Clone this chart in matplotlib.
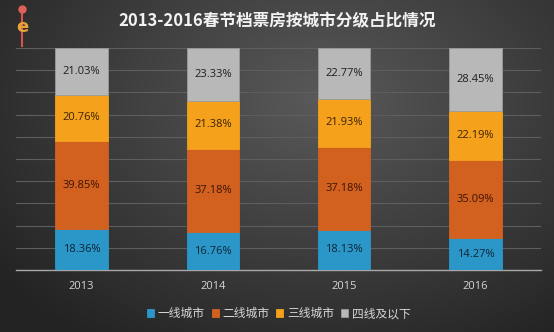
import numpy as np
import matplotlib
matplotlib.use("Agg")
import matplotlib.pyplot as plt
from matplotlib.lines import Line2D

plt.rcParams['font.family'] = ['Noto Sans CJK SC', 'DejaVu Sans']

years = ["2013", "2014", "2015", "2016"]
series_names = ["一线城市", "二线城市", "三线城市", "四线及以下"]
tier1 = [18.36, 16.76, 18.13, 14.27]
tier2 = [39.85, 37.18, 37.18, 35.09]
tier3 = [20.76, 21.38, 21.93, 22.19]
tier4 = [21.03, 23.33, 22.77, 28.45]

colors = ["#2b97c8", "#d2601f", "#f5a11c", "#b8b8b8"]
label_colors = ["#0d2433", "#3b1404", "#3a2204", "#1e1e1e"]

fig = plt.figure(figsize=(5.54, 3.32), dpi=100)

# dark radial background
bg = fig.add_axes([0, 0, 1, 1])
yy, xx = np.mgrid[0:332, 0:554]
d = np.sqrt(((xx - 320) / 420.0) ** 2 + ((yy - 100) / 300.0) ** 2)
v = np.clip(0.35 - 0.22 * d, 0.14, 0.35)
bg.imshow(np.dstack([v, v, v]), aspect='auto', extent=[0, 1, 0, 1], origin='upper')
bg.set_axis_off()

# small brand mark in the corner
bg.add_line(Line2D([22 / 554, 22 / 554], [1 - 8 / 332, 1 - 46 / 332], color='#d9534a', lw=1.5))
bg.plot([22 / 554], [1 - 9 / 332], 'o', color='#e0605a', ms=5)
bg.text(22 / 554, 1 - 27 / 332, "e", color='#e8a23a', fontsize=13, fontweight='bold',
        ha='center', va='center', family='DejaVu Sans')
bg.set_xlim(0, 1)
bg.set_ylim(0, 1)

ax = fig.add_axes([0.0289, 0.1867, 0.9476, 0.6687])
ax.set_facecolor('none')
x = np.arange(len(years))
data = np.array([tier1, tier2, tier3, tier4])
totals = data.sum(axis=0)
shares = data / totals * 100.0  # 100% stacked
bottom = np.zeros(len(years))
for vals, shr, c, lc, name in zip(data, shares, colors, label_colors, series_names):
    ax.bar(x, shr, 0.4, bottom=bottom, color=c, label=name, zorder=3,
           edgecolor='#9a9a9a' if c == "#b8b8b8" else c, linewidth=0.6)
    for xi, b, s, v in zip(x, bottom, shr, vals):
        ax.text(xi, b + s / 2, f"{v:.2f}%", ha='center', va='center',
                fontsize=8, color=lc, family=['Open Sans', 'DejaVu Sans'], zorder=4)
    bottom += shr

ax.set_xlim(-0.5, 3.5)
ax.set_ylim(0, 100)
ax.set_yticks(np.arange(0, 101, 10))
ax.yaxis.grid(True, color='#5e5e5e', linewidth=0.8, zorder=0)
ax.tick_params(axis='y', left=False, labelleft=False)
ax.tick_params(axis='x', length=0, pad=8, colors='#d6d6d6', labelsize=8)
ax.set_xticks(x)
ax.set_xticklabels(years, family=['Open Sans', 'DejaVu Sans'])
for s in ['left', 'right', 'top']:
    ax.spines[s].set_visible(False)
ax.spines['bottom'].set_color('#a8a8a8')
ax.spines['bottom'].set_linewidth(1.0)

fig.text(0.5, 0.935, "2013-2016春节档票房按城市分级占比情况", ha='center', va='center',
         fontsize=12, fontweight='bold', color='#f2f2f2')

fig.legend(loc='center', bbox_to_anchor=(0.503, 0.055), ncol=4, frameon=False,
           fontsize=8.5, handlelength=0.6, handleheight=0.6, handletextpad=0.3,
           columnspacing=0.6, labelcolor='#d8d8d8')

fig.savefig("out.png", dpi=100)
